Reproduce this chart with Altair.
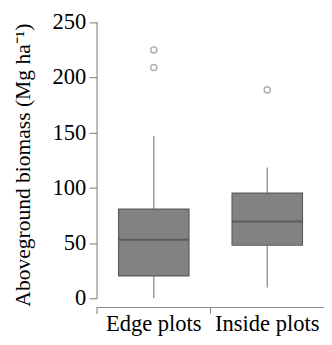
import altair as alt
import pandas as pd

categories = ["Edge plots", "Inside plots"]
whisker_low = [0.0, 9.8]
q1 = [20.2, 48.0]
median = [53.0, 69.5]
q3 = [80.8, 95.3]
whisker_high = [147.0, 118.5]
outlier_cat = ["Edge plots", "Edge plots", "Inside plots"]
outlier_val = [225.0, 209.0, 188.8]
y_ticks = [0, 50, 100, 150, 200, 250]

stats = pd.DataFrame({"cat": categories, "lo": whisker_low, "q1": q1,
                      "med": median, "q3": q3, "hi": whisker_high})
outl = pd.DataFrame({"cat": outlier_cat, "v": outlier_val})
axis_df = pd.DataFrame({"a": [0], "b": [250]})
ytick_df = pd.DataFrame({"t": y_ticks})

FONT = "Liberation Serif"
AX = "#8c8c8c"
yscale = alt.Scale(domain=[-8, 250], nice=False, zero=False)
xscale = alt.Scale(domain=categories, paddingInner=0, paddingOuter=0)

xaxis = alt.Axis(title=None, labels=False, ticks=False, domainColor=AX,
                 domainWidth=1.2)
yaxis = alt.Axis(values=y_ticks, title="Aboveground biomass (Mg ha⁻¹)",
                 labels=False, domain=False, grid=False, tickColor=AX, tickSize=8,
                 tickWidth=1.2, titleFont=FONT,
                 titleFontSize=22, titleFontWeight="normal",
                 titleColor="black", titlePadding=55)


def X(**kw):
    return alt.X("cat:N", scale=xscale, sort=categories, axis=xaxis, **kw)


def Y(field):
    return alt.Y(field, scale=yscale, axis=yaxis)


base = alt.Chart(stats)

whisk_lo = base.mark_rule(color="#9a9a9a", strokeWidth=1.5).encode(
    x=X(), y=Y("lo:Q"), y2="q1:Q")
whisk_hi = base.mark_rule(color="#9a9a9a", strokeWidth=1.5).encode(
    x=X(), y=Y("q3:Q"), y2="hi:Q")
box = base.mark_bar(size=72, color="#828282", stroke="#5c5c5c", strokeWidth=1.2).encode(
    x=X(), y=Y("q1:Q"), y2="q3:Q")
med = base.mark_tick(size=72, thickness=2, color="#4a4a4a").encode(
    x=X(), y=Y("med:Q"))
pts = alt.Chart(outl).mark_point(shape="circle", filled=False, size=40,
                                 color="#8a8a8a", strokeWidth=1.4).encode(
    x=X(), y=Y("v:Q"))
xticks = base.mark_rule(color=AX, strokeWidth=1.2).encode(
    x=X(bandPosition=0), y=alt.value(291), y2=alt.value(298))
yaxis_line = alt.Chart(axis_df).mark_rule(color=AX, strokeWidth=1.2).encode(
    x=alt.value(0), y=Y("a:Q"), y2="b:Q")
ylabels = alt.Chart(ytick_df).mark_text(
    font=FONT, fontSize=23, align="right", baseline="middle", color="black", dx=-11
).encode(x=alt.value(0), y=Y("t:Q"), text="t:Q")
xlabels = base.mark_text(
    font=FONT, fontSize=23, align="center", baseline="top", color="black"
).encode(x=X(), y=alt.value(297), text="cat:N")

chart = alt.layer(whisk_lo, whisk_hi, box, med, pts, xticks, yaxis_line,
                  ylabels, xlabels).properties(
    width=232, height=291,
    padding={"left": 4, "top": 0, "right": 0, "bottom": 0},
).configure(
    background="white", font=FONT,
    view=alt.ViewConfig(stroke=None),
    axis=alt.AxisConfig(titleFont=FONT),
)

chart.save("out.html", embed_options={"renderer": "svg", "actions": False})
